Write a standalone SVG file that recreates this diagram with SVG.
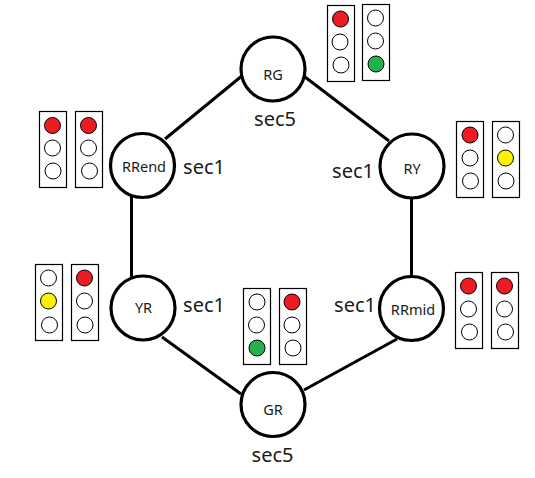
<svg xmlns="http://www.w3.org/2000/svg" width="535" height="478" viewBox="0 0 535 478">
<style>
.bg{fill:#fff}
.edge{stroke:#000;stroke-width:3;fill:none;stroke-linecap:butt}
.state{fill:#fff;stroke:#000;stroke-width:3.2}
.box{fill:#fff;stroke:#000;stroke-width:1.2}
.l{stroke:#000;stroke-width:1;fill:#fff}
.r{fill:#ed1c24}.y{fill:#fff200}.g{fill:#22b14c}
text{font-family:"Noto Sans","Open Sans","Liberation Sans",sans-serif;fill:#1a1a1a;text-anchor:middle}
.name{font-size:14.500px}
.sec{font-size:20px}
</style>
<rect class="bg" width="535" height="478"/>
<g id="connectors">
<line class="edge" x1="243" y1="75" x2="165" y2="139"/>
<line class="edge" x1="305" y1="77" x2="389" y2="141"/>
<line class="edge" x1="131.500" y1="197" x2="131.500" y2="278"/>
<line class="edge" x1="411.500" y1="198" x2="411.500" y2="276"/>
<line class="edge" x1="162" y1="337" x2="241" y2="394"/>
<line class="edge" x1="397" y1="339" x2="304" y2="390"/>
</g>
<g id="RG"><circle class="state" cx="273" cy="69" r="32"/><text class="name" x="273" y="80">RG</text><text class="sec" x="275" y="126">sec5</text></g>
<g id="RRend"><circle class="state" cx="142.500" cy="165.500" r="32"/><text class="name" x="144" y="172">RRend</text><text class="sec" x="204" y="174">sec1</text></g>
<g id="RY"><circle class="state" cx="412" cy="166" r="32"/><text class="name" x="412" y="174">RY</text><text class="sec" x="353" y="178">sec1</text></g>
<g id="YR"><circle class="state" cx="143" cy="308" r="32"/><text class="name" x="143.500" y="313">YR</text><text class="sec" x="204" y="312">sec1</text></g>
<g id="RRmid"><circle class="state" cx="411.500" cy="308.500" r="32"/><text class="name" x="413" y="315">RRmid</text><text class="sec" x="355" y="312">sec1</text></g>
<g id="GR"><circle class="state" cx="273" cy="404.500" r="32"/><text class="name" x="273" y="415">GR</text><text class="sec" x="272.500" y="462">sec5</text></g>
<g id="signals-RG">
<rect class="box" x="327.500" y="5.500" width="27" height="76"/><circle class="l r" cx="340.500" cy="19" r="8"/><circle class="l" cx="340" cy="42" r="8"/><circle class="l" cx="341" cy="65" r="8"/>
<rect class="box" x="362.500" y="4.500" width="27" height="76"/><circle class="l" cx="375.500" cy="18" r="8"/><circle class="l" cx="375.500" cy="41" r="8"/><circle class="l g" cx="376" cy="64" r="8"/>
</g>
<g id="signals-RRend">
<rect class="box" x="39.500" y="111.500" width="27" height="76"/><circle class="l r" cx="52.500" cy="125.500" r="8"/><circle class="l" cx="52.500" cy="148" r="8"/><circle class="l" cx="53" cy="171" r="8"/>
<rect class="box" x="75.500" y="111.500" width="27" height="76"/><circle class="l r" cx="88.500" cy="125.500" r="8"/><circle class="l" cx="88.500" cy="148" r="8"/><circle class="l" cx="89.500" cy="171" r="8"/>
</g>
<g id="signals-RY">
<rect class="box" x="456.500" y="121.500" width="27" height="76"/><circle class="l r" cx="470" cy="135" r="8"/><circle class="l" cx="470" cy="158" r="8"/><circle class="l" cx="470.500" cy="181" r="8"/>
<rect class="box" x="492.500" y="121.500" width="27" height="76"/><circle class="l" cx="505.500" cy="135" r="8"/><circle class="l y" cx="505.500" cy="158" r="8"/><circle class="l" cx="506" cy="181" r="8"/>
</g>
<g id="signals-RRmid">
<rect class="box" x="455.500" y="272.500" width="27" height="76"/><circle class="l r" cx="468.500" cy="286" r="8"/><circle class="l" cx="468.500" cy="309" r="8"/><circle class="l" cx="469.500" cy="332" r="8"/>
<rect class="box" x="491.500" y="272.500" width="27" height="76"/><circle class="l r" cx="504.500" cy="286" r="8"/><circle class="l" cx="504.500" cy="309" r="8"/><circle class="l" cx="505.500" cy="332" r="8"/>
</g>
<g id="signals-YR">
<rect class="box" x="35.500" y="264.500" width="27" height="76"/><circle class="l" cx="48.500" cy="278" r="8"/><circle class="l y" cx="48.500" cy="301" r="8"/><circle class="l" cx="49.500" cy="325" r="8"/>
<rect class="box" x="71.500" y="264.500" width="27" height="76"/><circle class="l r" cx="84.500" cy="278" r="8"/><circle class="l" cx="84.500" cy="301" r="8"/><circle class="l" cx="85" cy="325" r="8"/>
</g>
<g id="signals-GR">
<rect class="box" x="243.500" y="288.500" width="27" height="76"/><circle class="l" cx="257" cy="302" r="8"/><circle class="l" cx="256.500" cy="325" r="8"/><circle class="l g" cx="257" cy="348" r="8"/>
<rect class="box" x="279.500" y="288.500" width="27" height="76"/><circle class="l r" cx="292" cy="302" r="8"/><circle class="l" cx="292" cy="325" r="8"/><circle class="l" cx="293" cy="348" r="8"/>
</g>
</svg>
